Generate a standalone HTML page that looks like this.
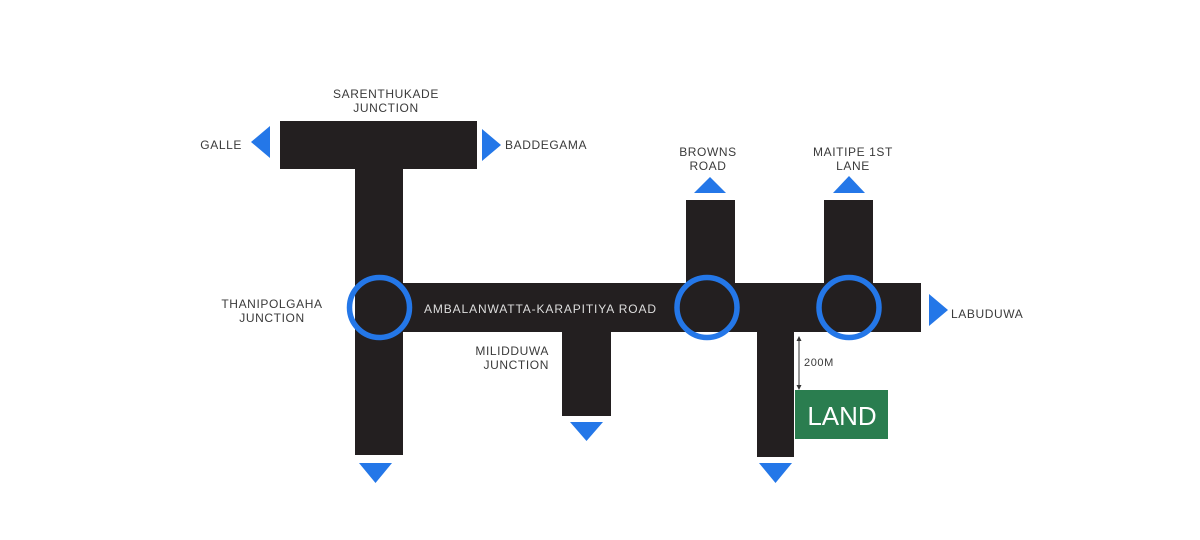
<!DOCTYPE html>
<html><head><meta charset="utf-8"><style>
html,body{margin:0;padding:0;background:#fff;}
svg{display:block;}
text{font-family:"Liberation Sans",sans-serif;font-size:12px;fill:#3a3a3a;letter-spacing:0.6px;}
</style></head><body>
<svg width="1200" height="540" viewBox="0 0 1200 540" xmlns="http://www.w3.org/2000/svg">
<g fill="#231f20">
<rect x="280" y="121" width="197" height="48"/>
<rect x="355" y="169" width="48" height="286"/>
<rect x="403" y="283" width="518" height="49"/>
<rect x="686" y="200" width="49" height="83"/>
<rect x="824" y="200" width="49" height="83"/>
<rect x="562" y="332" width="49" height="84"/>
<rect x="757" y="332" width="37" height="125"/>
</g>
<rect x="795" y="390" width="93" height="49" fill="#2a7d4f"/>
<text x="842" y="425" text-anchor="middle" style="font-size:26px;fill:#fff;letter-spacing:0">LAND</text>
<g fill="none" stroke="#2477e8" stroke-width="5.5">
<circle cx="379.5" cy="307.5" r="30"/>
<circle cx="707" cy="307.5" r="30"/>
<circle cx="849" cy="307.5" r="30"/>
</g>
<g fill="#2477e8">
<polygon points="251,142 270,126 270,158"/>
<polygon points="482,129 501,145 482,161"/>
<polygon points="694,193 710,177 726,193"/>
<polygon points="833,193 849,176 865,193"/>
<polygon points="929,294 948,310 929,326"/>
<polygon points="359,463 392,463 375.5,483"/>
<polygon points="570,422 603,422 586.5,441"/>
<polygon points="759,463 792,463 775.5,483"/>
</g>
<line x1="799" y1="339" x2="799" y2="387" stroke="#333" stroke-width="1"/>
<polygon points="799,336 796.5,341 801.5,341" fill="#333"/>
<polygon points="799,390 796.5,385 801.5,385" fill="#333"/>
<text x="804" y="366" style="font-size:11px">200M</text>
<text x="386" y="98" text-anchor="middle">SARENTHUKADE</text>
<text x="386" y="112" text-anchor="middle">JUNCTION</text>
<text x="242" y="149" text-anchor="end">GALLE</text>
<text x="505" y="149">BADDEGAMA</text>
<text x="708" y="156" text-anchor="middle">BROWNS</text>
<text x="708" y="170" text-anchor="middle">ROAD</text>
<text x="853" y="156" text-anchor="middle">MAITIPE 1ST</text>
<text x="853" y="170" text-anchor="middle">LANE</text>
<text x="951" y="318">LABUDUWA</text>
<text x="272" y="308" text-anchor="middle">THANIPOLGAHA</text>
<text x="272" y="322" text-anchor="middle">JUNCTION</text>
<text x="549" y="355" text-anchor="end">MILIDDUWA</text>
<text x="549" y="369" text-anchor="end">JUNCTION</text>
<text x="424" y="313" textLength="232" lengthAdjust="spacing" style="fill:#ddd;letter-spacing:0">AMBALANWATTA-KARAPITIYA ROAD</text>
</svg>
</body></html>
